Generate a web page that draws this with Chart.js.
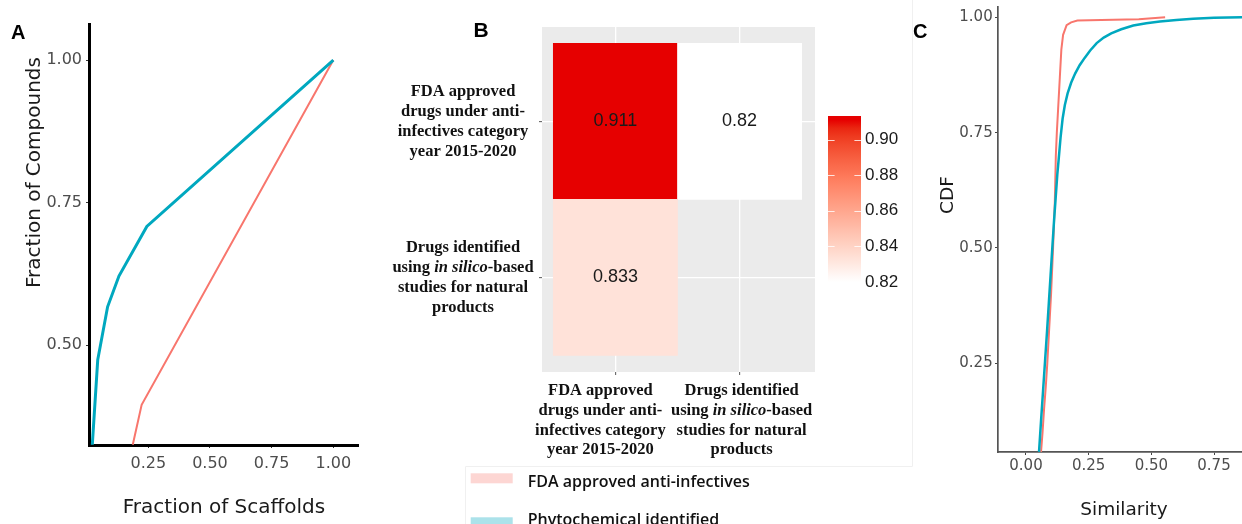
<!DOCTYPE html>
<html>
<head>
<meta charset="utf-8">
<script src="https://cdn.jsdelivr.net/npm/chart.js@4.4.1/dist/chart.umd.min.js"></script>
<style>
  html, body { margin: 0; padding: 0; background: #fff; }
  #fig { position: relative; width: 1242px; height: 524px; overflow: hidden; background: #fff; }
  #fig canvas { position: absolute; }
</style>
</head>
<body>
<div id="fig">
  <canvas id="cA" width="380" height="524" style="left:0;top:0;width:380px;height:524px"></canvas>
  <canvas id="cB" width="550" height="524" style="left:370px;top:0;width:550px;height:524px"></canvas>
  <canvas id="cBar" width="120" height="220" style="left:800px;top:90px;width:120px;height:220px"></canvas>
  <canvas id="cC" width="342" height="524" style="left:900px;top:0;width:342px;height:524px"></canvas>
</div>
<script>
// ---------- series shared by panels A and C ----------
const SERIES_NAMES = ['FDA approved anti-infectives', 'Phytochemical identified'];
const SERIES_COLORS = ['#F8766D', '#00A8BF'];

// ---------- panel A: fraction of scaffolds vs fraction of compounds ----------
const A_FDA_X = [0.187, 0.223, 1.00];
const A_FDA_Y = [0.325, 0.395, 1.00];
const A_PHYTO_X = [0.023, 0.045, 0.085, 0.131, 0.244, 1.00];
const A_PHYTO_Y = [0.325, 0.474, 0.567, 0.621, 0.708, 1.00];
const A_X_TICKS = [0.25, 0.50, 0.75, 1.00];
const A_Y_TICKS = [0.50, 0.75, 1.00];

// ---------- panel B: mean similarity between the two compound sets ----------
const B_CATEGORIES = [
  'FDA approved drugs under anti-infectives category year 2015-2020',
  'Drugs identified using in silico-based studies for natural products'
];
// underscores mark the italic part of a line
const B_LABEL_LINES = [
  ['FDA approved', 'drugs under anti-', 'infectives category', 'year 2015-2020'],
  ['Drugs identified', 'using _in silico_-based', 'studies for natural', 'products']
];
// rows follow B_CATEGORIES from the top, columns follow B_CATEGORIES from the left
const B_VALUES = [
  [0.911, 0.82],
  [0.833, null]
];
const B_LEGEND_TICKS = [0.82, 0.84, 0.86, 0.88, 0.90];

// ---------- panel C: cumulative distribution of similarity ----------
const C_FDA_X = [0.060, 0.066, 0.072, 0.079, 0.085, 0.090, 0.095, 0.100, 0.108, 0.115, 0.119, 0.123, 0.128, 0.135, 0.141, 0.148, 0.162, 0.180, 0.205, 0.300, 0.450, 0.555];
const C_FDA_Y = [0.058, 0.100, 0.150, 0.200, 0.250, 0.300, 0.350, 0.400, 0.500, 0.600, 0.700, 0.750, 0.800, 0.870, 0.930, 0.962, 0.983, 0.989, 0.993, 0.994, 0.996, 1.000];
const C_PHYTO_X = [0.052, 0.060, 0.068, 0.076, 0.084, 0.091, 0.098, 0.105, 0.112, 0.118, 0.125, 0.130, 0.138, 0.146, 0.155, 0.166, 0.180, 0.196, 0.214, 0.234, 0.256, 0.282, 0.310, 0.340, 0.380, 0.428, 0.480, 0.534, 0.600, 0.667, 0.750, 0.862];
const C_PHYTO_Y = [0.058, 0.125, 0.190, 0.255, 0.320, 0.380, 0.440, 0.500, 0.560, 0.606, 0.660, 0.690, 0.740, 0.780, 0.810, 0.835, 0.858, 0.878, 0.896, 0.912, 0.928, 0.944, 0.956, 0.965, 0.974, 0.982, 0.987, 0.991, 0.994, 0.997, 0.999, 1.000];
const C_X_TICKS = [0.00, 0.25, 0.50, 0.75];
const C_Y_TICKS = [0.25, 0.50, 0.75, 1.00];

// ---------- helpers ----------
const zip = (xs, ys) => xs.map((x, i) => ({ x, y: ys[i] }));
const fixedTicks = vals => scale => { scale.ticks = vals.map(v => ({ value: v })); };
const fitBox = (w, h) => scale => {
  if (w != null) scale.width = w;
  if (h != null) scale.height = h;
  scale.paddingLeft = scale.paddingRight = scale.paddingTop = scale.paddingBottom = 0;
};

// white -> red ramp interpolated in CIELAB
function hexToRgb(h) { const n = parseInt(h.slice(1), 16); return [(n >> 16) & 255, (n >> 8) & 255, n & 255]; }
function rgbToLab(rgb) {
  const lin = rgb.map(c => { c /= 255; return c <= 0.04045 ? c / 12.92 : Math.pow((c + 0.055) / 1.055, 2.4); });
  const X = (0.4124 * lin[0] + 0.3576 * lin[1] + 0.1805 * lin[2]) / 0.95047;
  const Y = 0.2126 * lin[0] + 0.7152 * lin[1] + 0.0722 * lin[2];
  const Z = (0.0193 * lin[0] + 0.1192 * lin[1] + 0.9505 * lin[2]) / 1.08883;
  const f = t => t > 0.008856 ? Math.cbrt(t) : 7.787 * t + 16 / 116;
  return [116 * f(Y) - 16, 500 * (f(X) - f(Y)), 200 * (f(Y) - f(Z))];
}
function labToRgb([L, a, b]) {
  const fy = (L + 16) / 116, fx = fy + a / 500, fz = fy - b / 200;
  const inv = t => t * t * t > 0.008856 ? t * t * t : (t - 16 / 116) / 7.787;
  const X = 0.95047 * inv(fx), Y = inv(fy), Z = 1.08883 * inv(fz);
  const lin = [
    3.2406 * X - 1.5372 * Y - 0.4986 * Z,
    -0.9689 * X + 1.8758 * Y + 0.0415 * Z,
    0.0557 * X - 0.2040 * Y + 1.0570 * Z
  ];
  return lin.map(c => {
    const s = c <= 0.0031308 ? 12.92 * c : 1.055 * Math.pow(c, 1 / 2.4) - 0.055;
    return Math.round(Math.max(0, Math.min(1, s)) * 255);
  });
}
const LOW_FILL = '#FFFFFF', HIGH_FILL = '#E60000';
const labLow = rgbToLab(hexToRgb(LOW_FILL)), labHigh = rgbToLab(hexToRgb(HIGH_FILL));
function rampColor(t) {
  t = Math.max(0, Math.min(1, t));
  const [r, g, b] = labToRgb(labLow.map((v, i) => v + (labHigh[i] - v) * t));
  return `rgb(${r},${g},${b})`;
}

const FONT_AXIS = '"DejaVu Sans", Verdana, sans-serif';
const TITLE_COLOR = '#1a1a1a';
const TICK_COLOR = '#4d4d4d';

// free text (panel letters, axis titles) placed in canvas coordinates
const panelText = {
  id: 'panelText',
  afterDraw(chart, args, opts) {
    const ctx = chart.ctx;
    (opts.items || []).forEach(it => {
      ctx.save();
      ctx.font = it.font;
      ctx.fillStyle = it.color || TITLE_COLOR;
      ctx.textAlign = it.align || 'left';
      ctx.textBaseline = 'alphabetic';
      ctx.translate(it.x, it.y);
      if (it.rotate) ctx.rotate(it.rotate);
      ctx.fillText(it.text, 0, 0);
      ctx.restore();
    });
  }
};

const baseOptions = {
  responsive: false,
  animation: false,
  devicePixelRatio: 1,
  events: []
};

// ---------- panel A ----------
new Chart(document.getElementById('cA'), {
  type: 'scatter',
  data: {
    datasets: [
      { label: SERIES_NAMES[0], data: zip(A_FDA_X, A_FDA_Y), borderColor: SERIES_COLORS[0], borderWidth: 2,
        showLine: true, pointRadius: 0, order: 1 },
      { label: SERIES_NAMES[1], data: zip(A_PHYTO_X, A_PHYTO_Y), borderColor: SERIES_COLORS[1], borderWidth: 3,
        showLine: true, pointRadius: 0, order: 0 }
    ]
  },
  options: {
    ...baseOptions,
    layout: { padding: { left: 0, top: 24, right: 22, bottom: 0 }, autoPadding: false },
    plugins: {
      legend: { display: false }, tooltip: { enabled: false },
      panelText: { items: [
        { text: 'A', x: 11, y: 38.5, font: 'bold 20px "Liberation Sans", Arial, sans-serif', color: '#000' },
        { text: 'Fraction of Scaffolds', x: 224, y: 513, align: 'center', font: `20px ${FONT_AXIS}` },
        { text: 'Fraction of Compounds', x: 40, y: 172.5, align: 'center', rotate: -Math.PI / 2, font: `20px ${FONT_AXIS}` }
      ] }
    },
    scales: {
      x: {
        type: 'linear', min: 0.0096, max: 1.100,
        afterBuildTicks: fixedTicks(A_X_TICKS), afterFit: fitBox(null, 79),
        border: { display: true, color: '#000', width: 3 },
        grid: { drawOnChartArea: false, drawTicks: true, tickLength: 3, tickColor: '#333' },
        ticks: { color: TICK_COLOR, font: { family: FONT_AXIS, size: 16 }, padding: 6, maxRotation: 0, autoSkip: false,
                 callback: v => v.toFixed(2) }
      },
      y: {
        type: 'linear', min: 0.3246, max: 1.0632,
        afterBuildTicks: fixedTicks(A_Y_TICKS), afterFit: fitBox(89, null),
        border: { display: true, color: '#000', width: 3 },
        grid: { drawOnChartArea: false, drawTicks: true, tickLength: 3, tickColor: '#333' },
        ticks: { color: TICK_COLOR, font: { family: FONT_AXIS, size: 16 }, padding: 4, autoSkip: false,
                 callback: v => v.toFixed(2) }
      }
    }
  },
  plugins: [panelText]
});

// ---------- panel B: heat map ----------
const heatVals = B_VALUES.flat().filter(v => v != null);
const heatLo = Math.min(...heatVals), heatHi = Math.max(...heatVals);
const heatFill = v => rampColor((v - heatLo) / (heatHi - heatLo));
const nRows = B_VALUES.length;
const cellCenter = i => i + 0.5;
const heatPoints = [];
B_VALUES.forEach((row, r) => row.forEach((v, c) => {
  if (v == null) return;
  heatPoints.push({ x: cellCenter(c), y: [nRows - 1 - r, nRows - r], v });
}));

function drawRichLine(ctx, line, cx, cy, size) {
  const parts = line.split('_');
  const fonts = parts.map((p, i) => (i % 2 ? 'italic bold ' : 'bold ') + size + 'px "Liberation Serif", "Times New Roman", serif');
  let total = 0;
  const widths = parts.map((p, i) => { ctx.font = fonts[i]; const w = ctx.measureText(p).width; total += w; return w; });
  let x = cx - total / 2;
  ctx.textAlign = 'left';
  ctx.textBaseline = 'middle';
  parts.forEach((p, i) => { ctx.font = fonts[i]; ctx.fillText(p, x, cy); x += widths[i]; });
}

const heatDecor = {
  id: 'heatDecor',
  beforeDraw(chart) {
    const { ctx, chartArea: a } = chart;
    ctx.save();
    ctx.fillStyle = '#EBEBEB';
    ctx.fillRect(a.left, a.top, a.right - a.left, a.bottom - a.top);
    ctx.restore();
  },
  afterDatasetsDraw(chart) {
    const ctx = chart.ctx;
    const meta = chart.getDatasetMeta(0);
    ctx.save();
    ctx.font = '18px "Liberation Sans", Arial, sans-serif';
    ctx.fillStyle = '#1a1a1a';
    ctx.textAlign = 'center';
    ctx.textBaseline = 'middle';
    meta.data.forEach((el, i) => {
      const { x, y, base } = el.getProps(['x', 'y', 'base'], true);
      ctx.fillText(String(chart.data.datasets[0].data[i].v), x, (y + base) / 2);
    });
    ctx.restore();
  },
  afterDraw(chart, args, o) {
    const { ctx, scales: { x, y } } = chart;
    ctx.save();
    ctx.fillStyle = '#111';
    // row labels
    B_LABEL_LINES.forEach((lines, r) => {
      const cy = y.getPixelForValue(cellCenter(nRows - 1 - r));
      lines.forEach((ln, k) => drawRichLine(ctx, ln, o.rowX, cy + (k - (lines.length - 1) / 2) * o.lineGap + 0.5, o.labelSize));
    });
    // column labels
    B_LABEL_LINES.forEach((lines, c) => {
      const cx = x.getPixelForValue(cellCenter(c)) + o.colShift[c];
      lines.forEach((ln, k) => drawRichLine(ctx, ln, cx, x.top + o.colTop + k * o.lineGap, o.labelSize));
    });
    // legend for the curves in panels A and C
    ctx.textAlign = 'left';
    ctx.textBaseline = 'alphabetic';
    ctx.font = '600 16px "Open Sans", Arial, sans-serif';
    o.legendRows.forEach((row, i) => {
      ctx.fillStyle = row.swatch;
      ctx.fillRect(o.legendX, row.swatchTop, 42, 10);
      ctx.fillStyle = '#111';
      ctx.fillText(SERIES_NAMES[i], o.legendX + 57, row.baseline);
    });
    // faint frame around this panel
    ctx.strokeStyle = '#f0f0f0';
    ctx.lineWidth = 1;
    ctx.beginPath();
    ctx.moveTo(542.5, 0); ctx.lineTo(542.5, 466.5); ctx.lineTo(95.5, 466.5); ctx.lineTo(95.5, 524);
    ctx.stroke();
    ctx.restore();
  }
};

const heatGrid = { color: '#FFFFFF', lineWidth: 1.3, drawTicks: true, tickLength: 3, tickColor: '#555', tickWidth: 1, offset: false };

new Chart(document.getElementById('cB'), {
  type: 'bar',
  data: {
    datasets: [{
      data: heatPoints,
      backgroundColor: heatPoints.map(p => heatFill(p.v)),
      borderWidth: 0,
      barPercentage: 1,
      categoryPercentage: 1
    }]
  },
  options: {
    ...baseOptions,
    layout: { padding: { left: 0, top: 27, right: 105, bottom: 0 }, autoPadding: false },
    plugins: {
      legend: { display: false }, tooltip: { enabled: false },
      heatDecor: {
        rowX: 93, colTop: 18.7, colShift: [-15, 2], lineGap: 19.8, labelSize: 16.5,
        legendX: 100.7,
        legendRows: [
          { swatchTop: 473.3, baseline: 487, swatch: 'rgba(248,118,109,0.3)' },
          { swatchTop: 517.3, baseline: 524.5, swatch: 'rgba(0,168,191,0.33)' }
        ]
      },
      panelText: { items: [
        { text: 'B', x: 103.5, y: 37, font: 'bold 21px "Liberation Sans", Arial, sans-serif', color: '#000' }
      ] }
    },
    scales: {
      x: {
        type: 'linear', min: -0.091, max: 2.107, offset: false,
        afterBuildTicks: fixedTicks(B_CATEGORIES.map((_, c) => cellCenter(c))), afterFit: fitBox(null, 152),
        border: { display: false }, grid: heatGrid, ticks: { display: false }
      },
      y: {
        type: 'linear', min: -0.106, max: 2.104, offset: false,
        afterBuildTicks: fixedTicks(B_CATEGORIES.map((_, r) => cellCenter(r))), afterFit: fitBox(172, null),
        border: { display: false }, grid: heatGrid, ticks: { display: false }
      }
    }
  },
  plugins: [heatDecor, panelText]
});

// ---------- panel B: colour bar ----------
const binHalf = (heatHi - heatLo) / 40;
const barLo = heatLo - binHalf, barHi = heatHi + binHalf;
const colourBarTicks = {
  id: 'colourBarTicks',
  afterDatasetsDraw(chart) {
    const { ctx, chartArea: a, scales: { y } } = chart;
    const len = (a.right - a.left) / 5;
    ctx.save();
    ctx.strokeStyle = 'rgba(255,255,255,0.8)';
    ctx.lineWidth = 1;
    y.ticks.forEach(t => {
      const py = Math.round(y.getPixelForValue(t.value)) + 0.5;
      ctx.beginPath();
      ctx.moveTo(a.left, py); ctx.lineTo(a.left + len, py);
      ctx.moveTo(a.right - len, py); ctx.lineTo(a.right, py);
      ctx.stroke();
    });
    ctx.restore();
  }
};
new Chart(document.getElementById('cBar'), {
  type: 'bar',
  data: {
    labels: [''],
    datasets: [{
      data: [[barLo, barHi]],
      borderWidth: 0,
      barPercentage: 1,
      categoryPercentage: 1,
      backgroundColor: c => {
        const chart = c.chart;
        if (!chart.chartArea) return HIGH_FILL;
        const ys = chart.scales.y;
        const g = chart.ctx.createLinearGradient(0, ys.getPixelForValue(heatLo), 0, ys.getPixelForValue(heatHi));
        for (let k = 0; k <= 20; k++) g.addColorStop(k / 20, rampColor(k / 20));
        return g;
      }
    }]
  },
  options: {
    ...baseOptions,
    layout: { padding: { left: 28, top: 26, right: 0, bottom: 24 }, autoPadding: false },
    plugins: { legend: { display: false }, tooltip: { enabled: false } },
    scales: {
      x: { display: false, offset: true },
      y: {
        position: 'right', type: 'linear', min: barLo, max: barHi,
        afterBuildTicks: fixedTicks(B_LEGEND_TICKS), afterFit: fitBox(59, null),
        border: { display: false },
        grid: { display: false, drawTicks: false },
        ticks: { color: '#1a1a1a', font: { family: '"Liberation Sans", Arial, sans-serif', size: 17 }, padding: 4,
                 autoSkip: false, callback: v => v.toFixed(2) }
      }
    }
  },
  plugins: [colourBarTicks]
});

// ---------- panel C ----------
new Chart(document.getElementById('cC'), {
  type: 'scatter',
  data: {
    datasets: [
      { label: SERIES_NAMES[0], data: zip(C_FDA_X, C_FDA_Y), borderColor: SERIES_COLORS[0], borderWidth: 2,
        showLine: true, pointRadius: 0, order: 1 },
      { label: SERIES_NAMES[1], data: zip(C_PHYTO_X, C_PHYTO_Y), borderColor: SERIES_COLORS[1], borderWidth: 2.5,
        showLine: true, pointRadius: 0, order: 0 }
    ]
  },
  options: {
    ...baseOptions,
    layout: { padding: { left: 0, top: 7, right: 0, bottom: 0 }, autoPadding: false },
    plugins: {
      legend: { display: false }, tooltip: { enabled: false },
      panelText: { items: [
        { text: 'C', x: 13, y: 37.5, font: 'bold 20px "Liberation Sans", Arial, sans-serif', color: '#000' },
        { text: 'Similarity', x: 224, y: 515, align: 'center', font: `18.5px ${FONT_AXIS}` },
        { text: 'CDF', x: 53, y: 195, align: 'center', rotate: -Math.PI / 2, font: `18.5px ${FONT_AXIS}` }
      ] }
    },
    scales: {
      x: {
        type: 'linear', min: -0.1117, max: 0.8617,
        afterBuildTicks: fixedTicks(C_X_TICKS), afterFit: fitBox(null, 72),
        border: { display: true, color: '#555', width: 1.7 },
        grid: { drawOnChartArea: false, drawTicks: true, tickLength: 3, tickColor: '#444' },
        ticks: { color: TICK_COLOR, font: { family: FONT_AXIS, size: 15 }, padding: 2, maxRotation: 0, autoSkip: false,
                 callback: v => v.toFixed(2) }
      },
      y: {
        type: 'linear', min: 0.0577, max: 1.0223,
        afterBuildTicks: fixedTicks(C_Y_TICKS), afterFit: fitBox(98, null),
        border: { display: true, color: '#555', width: 1.7 },
        grid: { drawOnChartArea: false, drawTicks: true, tickLength: 3, tickColor: '#444' },
        ticks: { color: TICK_COLOR, font: { family: FONT_AXIS, size: 15 }, padding: 2.3, autoSkip: false,
                 callback: v => v.toFixed(2) }
      }
    }
  },
  plugins: [panelText]
});
</script>
</body>
</html>
